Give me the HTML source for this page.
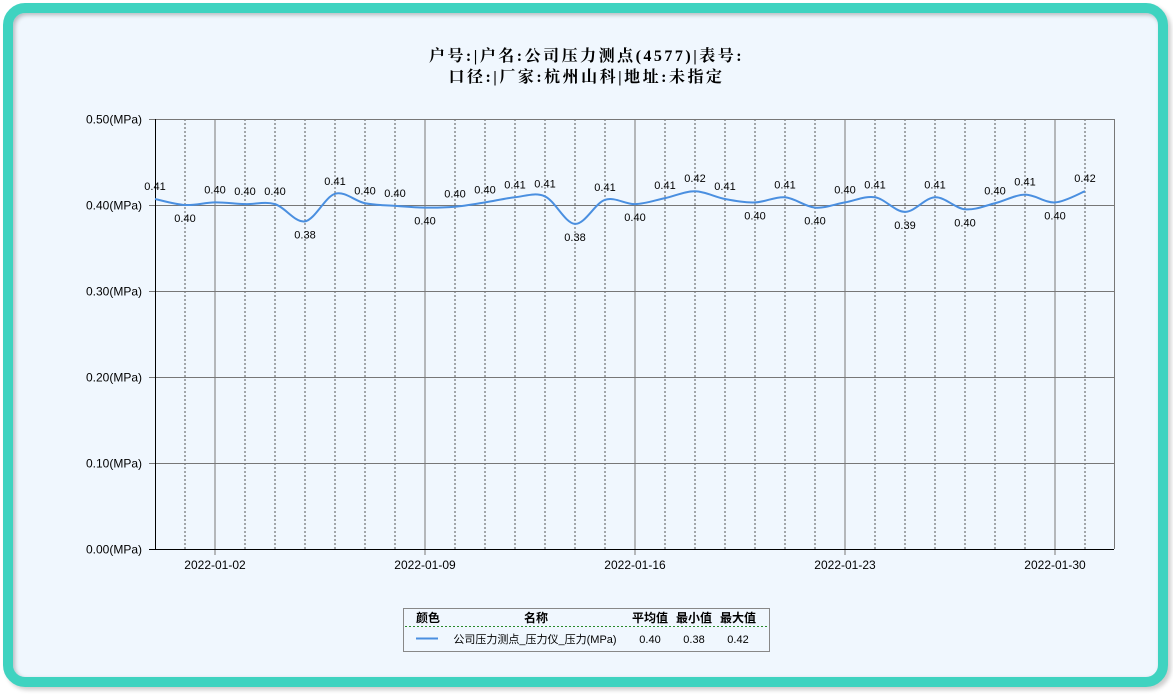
<!DOCTYPE html>
<html><head><meta charset="utf-8"><style>
body{margin:0;width:1173px;height:696px;background:#fff;overflow:hidden;font-family:"Liberation Sans","Noto Sans CJK SC",sans-serif;}
#frame{position:absolute;left:3px;top:3px;width:1145px;height:664px;border:10px solid #3fd3c0;border-radius:22px;background:#f0f7fe;box-shadow:inset 2px 2px 4px rgba(0,0,0,0.25),3px 3px 4px rgba(0,0,0,0.2);}
.t{position:absolute;left:0;width:1173px;text-align:center;font-family:"Liberation Serif","Noto Serif CJK SC",serif;font-weight:bold;font-size:16px;letter-spacing:2.5px;color:#000;}
</style></head><body>
<div id="frame"></div>
<div class="t" style="top:43px">户号:|户名:公司压力测点(4577)|表号:</div>
<div class="t" style="top:64px">口径:|厂家:杭州山科|地址:未指定</div>
<svg id="chart" width="1173" height="696" style="position:absolute;left:0;top:0"></svg>
<script>
const values=[0.407,0.400,0.403,0.401,0.401,0.381,0.413,0.402,0.399,0.397,0.398,0.403,0.409,0.410,0.378,0.406,0.401,0.408,0.416,0.407,0.403,0.409,0.397,0.403,0.409,0.392,0.409,0.395,0.402,0.412,0.403,0.416];
const yTicks=[0,0.1,0.2,0.3,0.4,0.5];
const xTickLabels=["2022-01-02","2022-01-09","2022-01-16","2022-01-23","2022-01-30"];
const xTickIdx=[2,9,16,23,30];
const NS="http://www.w3.org/2000/svg";
const svg=document.getElementById('chart');
const L=155,R=1114,T=119,B=549;
const X=i=>L+30*i;
const Y=v=>B-(v-0)/0.5*(B-T);
function el(tag,attrs,parent){const e=document.createElementNS(NS,tag);for(const k in attrs)e.setAttribute(k,attrs[k]);(parent||svg).appendChild(e);return e;}
for(let i=1;i<=32;i++){const x=X(i);if(x>R)break;const solid=xTickIdx.includes(i);
const g=el('line',{x1:x,x2:x,y1:T,y2:B+(solid?6:0),stroke:solid?'#777':'#555','stroke-width':1,'stroke-dasharray':solid?'':'2,2'});

}
yTicks.forEach(v=>{const y=Math.round(Y(v))+0.5;
const g=el('line',{x1:L-6,x2:R,y1:y,y2:y,stroke:v===0?'#000':'#777','stroke-width':1});


const t=el('text',{x:L-13,y:y+4,'text-anchor':'end','font-size':12,fill:'#000'});t.textContent=v.toFixed(2)+'(MPa)';

});
const ax=el('line',{x1:L+0.5,x2:L+0.5,y1:T,y2:B,stroke:'#000'});


const rb=el('line',{x1:R+0.5,x2:R+0.5,y1:T,y2:B,stroke:'#777'});


xTickIdx.forEach((d,k)=>{const t=el('text',{x:X(d),y:569,'text-anchor':'middle','font-size':12,fill:'#000'});t.textContent=xTickLabels[k];

});
const pts=values.map((v,i)=>[X(i),Y(v)]);
let d='M'+pts[0][0]+','+pts[0][1];
for(let i=0;i<pts.length-1;i++){const p0=pts[i-1]||pts[i],p1=pts[i],p2=pts[i+1],p3=pts[i+2]||p2;const k=0.5/3;
const c1=[p1[0]+(p2[0]-p0[0])*k,p1[1]+(p2[1]-p0[1])*k],c2=[p2[0]-(p3[0]-p1[0])*k,p2[1]-(p3[1]-p1[1])*k];
d+=` C${c1[0]},${c1[1]} ${c2[0]},${c2[1]} ${p2[0]},${p2[1]}`;}
const line=el('path',{d:d,fill:'none',stroke:'#4a8fe0','stroke-width':2});


values.forEach((v,i)=>{const prev=values[i-1]??Infinity,next=values[i+1]??Infinity;const below=v<prev&&v<next&&i>0;
const t=el('text',{x:X(i),y:below?Y(v)+17:Y(v)-9,'text-anchor':'middle','font-size':11,fill:'#000'});t.textContent=v.toFixed(2);

});
const lg=el('g',{});


el('rect',{x:403.5,y:608.5,width:366,height:43,fill:'#f0f7fe',stroke:'#888'},lg);
el('line',{x1:405,x2:768,y1:626.5,y2:626.5,stroke:'#2a8a2a','stroke-dasharray':'2,2'},lg);
[['颜色',428],['名称',536],['平均值',650],['最小值',694],['最大值',738]].forEach(([s,x])=>{const t=el('text',{x:x,y:622,'text-anchor':'middle','font-size':12,'font-weight':'bold',fill:'#000'},lg);t.textContent=s;});
el('line',{x1:416,x2:438,y1:638.5,y2:638.5,stroke:'#4a8fe0','stroke-width':2},lg);
[['公司压力测点_压力仪_压力(MPa)',535],['0.40',650],['0.38',694],['0.42',738]].forEach(([s,x])=>{const t=el('text',{x:x,y:643,'text-anchor':'middle','font-size':11,fill:'#000'},lg);t.textContent=s;});
</script>
</body></html>
